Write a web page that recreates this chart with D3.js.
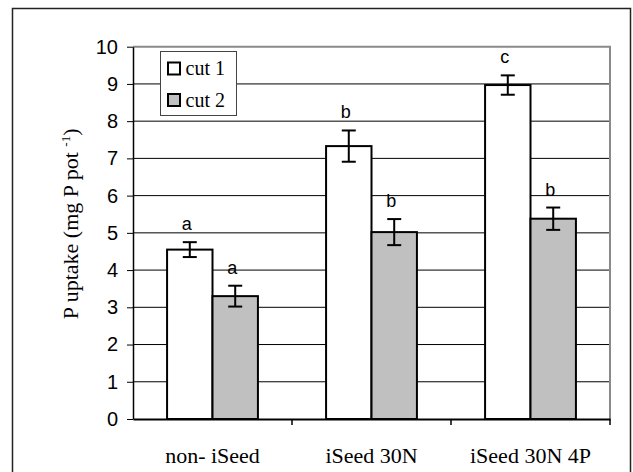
<!DOCTYPE html>
<html>
<head>
<meta charset="utf-8">
<script src="https://cdn.jsdelivr.net/npm/d3@7"></script>
<style>
  body { margin: 0; background: #fff; }
</style>
</head>
<body>
<div id="chart"></div>
<script>
const groups = ["non- iSeed", "iSeed 30N", "iSeed 30N 4P"];
const seriesNames = ["cut 1", "cut 2"];
const cut1 = [4.55, 7.33, 8.97];
const cut2 = [3.3, 5.02, 5.38];
const err1 = [0.2, 0.42, 0.26];
const err2 = [0.28, 0.35, 0.3];
const letters1 = ["a", "b", "c"];
const letters2 = ["a", "b", "b"];
const yTicks = [0, 1, 2, 3, 4, 5, 6, 7, 8, 9, 10];
const colors = ["#ffffff", "#c0c0c0"];

const SERIF = "Liberation Serif";
const SANS = "Liberation Sans";

const width = 633, height = 472;
const margin = { top: 46.7, right: 23, bottom: 53, left: 133 };

const svg = d3.select("#chart").append("svg")
  .attr("width", width)
  .attr("height", height);

// outer frame
svg.append("rect")
  .attr("x", 12.5).attr("y", 8.5)
  .attr("width", 618).attr("height", 500)
  .attr("fill", "none").attr("stroke", "#222").attr("stroke-width", 1.5);

const x = d3.scaleBand()
  .domain(groups)
  .range([margin.left, width - margin.right])
  .paddingInner(0).paddingOuter(0);

const xs = d3.scaleBand()
  .domain(seriesNames)
  .range([0, x.bandwidth()])
  .paddingOuter(0.75).paddingInner(0);

const y = d3.scaleLinear()
  .domain([0, 10])
  .range([height - margin.bottom, margin.top]);

// gridlines
svg.append("g")
  .selectAll("line")
  .data(yTicks.slice(1, -1))
  .join("line")
  .attr("x1", margin.left).attr("x2", width - margin.right)
  .attr("y1", d => y(d)).attr("y2", d => y(d))
  .attr("stroke", "#000").attr("stroke-width", 1);

// plot border top/right (gray)
svg.append("path")
  .attr("d", `M${margin.left},${y(10)}H${width - margin.right}V${y(0)}`)
  .attr("fill", "none").attr("stroke", "#8a8a8a").attr("stroke-width", 2);

// bars
const rows = groups.map((g, i) => [
  { g, s: seriesNames[0], v: cut1[i], e: err1[i], l: letters1[i] },
  { g, s: seriesNames[1], v: cut2[i], e: err2[i], l: letters2[i] }
]).flat();

svg.append("g")
  .selectAll("rect")
  .data(rows)
  .join("rect")
  .attr("x", d => x(d.g) + xs(d.s))
  .attr("y", d => y(d.v))
  .attr("width", xs.bandwidth())
  .attr("height", d => y(0) - y(d.v))
  .attr("fill", d => colors[seriesNames.indexOf(d.s)])
  .attr("stroke", "#000").attr("stroke-width", 2);

// error bars
const eb = svg.append("g").attr("stroke", "#000").attr("stroke-width", 2);
const cx = d => x(d.g) + xs(d.s) + xs.bandwidth() / 2;
eb.selectAll("line.v").data(rows).join("line").attr("class", "v")
  .attr("x1", cx).attr("x2", cx)
  .attr("y1", d => y(d.v - d.e)).attr("y2", d => y(d.v + d.e));
eb.selectAll("line.t").data(rows).join("line").attr("class", "t")
  .attr("x1", d => cx(d) - 7).attr("x2", d => cx(d) + 7)
  .attr("y1", d => y(d.v + d.e)).attr("y2", d => y(d.v + d.e));
eb.selectAll("line.b").data(rows).join("line").attr("class", "b")
  .attr("x1", d => cx(d) - 7).attr("x2", d => cx(d) + 7)
  .attr("y1", d => y(d.v - d.e)).attr("y2", d => y(d.v - d.e));

// significance letters
svg.append("g")
  .selectAll("text")
  .data(rows)
  .join("text")
  .attr("x", d => cx(d) - 3)
  .attr("y", d => y(d.v + d.e) - 12)
  .attr("text-anchor", "middle")
  .attr("font-family", SANS)
  .attr("font-size", 18)
  .text(d => d.l);

// axes
const yAxis = svg.append("g")
  .attr("transform", `translate(${margin.left},0)`)
  .call(d3.axisLeft(y).tickValues(yTicks).tickSize(6).tickPadding(9).tickSizeOuter(0))
  .attr("font-family", SANS)
  .attr("font-size", 20);
yAxis.select(".domain").attr("stroke", "#000").attr("stroke-width", 1.5);
yAxis.selectAll(".tick line").attr("stroke", "#000");
yAxis.selectAll(".tick text").attr("fill", "#000");

const xAxis = svg.append("g")
  .attr("transform", `translate(0,${y(0)})`)
  .call(d3.axisBottom(x).tickSize(0).tickPadding(28))
  .attr("font-family", SERIF)
  .attr("font-size", 22);
xAxis.select(".domain").attr("stroke", "#000").attr("stroke-width", 2);
xAxis.selectAll(".tick text").attr("fill", "#000");
// category separator ticks
svg.append("g")
  .selectAll("line")
  .data(groups)
  .join("line")
  .attr("x1", d => x(d) + x.bandwidth()).attr("x2", d => x(d) + x.bandwidth())
  .attr("y1", y(0)).attr("y2", y(0) + 6)
  .attr("stroke", "#000").attr("stroke-width", 1.5);

// y label
svg.append("text")
  .attr("transform", `translate(78,${(y(0) + y(10)) / 2 - 9}) rotate(-90)`)
  .attr("text-anchor", "middle")
  .attr("font-family", SERIF)
  .attr("font-size", 22)
  .call(t => {
    t.append("tspan").text("P uptake (mg P pot ");
    t.append("tspan").attr("font-size", 13).attr("dy", -8).text("-1");
    t.append("tspan").attr("dy", 8).text(")");
  });

// legend
const lg = svg.append("g").attr("transform", "translate(160.5,51.5)");
lg.append("rect").attr("width", 76).attr("height", 64)
  .attr("fill", "#fff").attr("stroke", "#444").attr("stroke-width", 1);
seriesNames.forEach((s, i) => {
  lg.append("rect")
    .attr("x", 7.5).attr("y", 11 + i * 31.5)
    .attr("width", 12).attr("height", 12)
    .attr("fill", colors[i]).attr("stroke", "#000").attr("stroke-width", 2);
  lg.append("text")
    .attr("x", 25).attr("y", 23.5 + i * 31.5)
    .attr("font-family", SERIF)
    .attr("font-size", 20)
    .text(s);
});
</script>
</body>
</html>
